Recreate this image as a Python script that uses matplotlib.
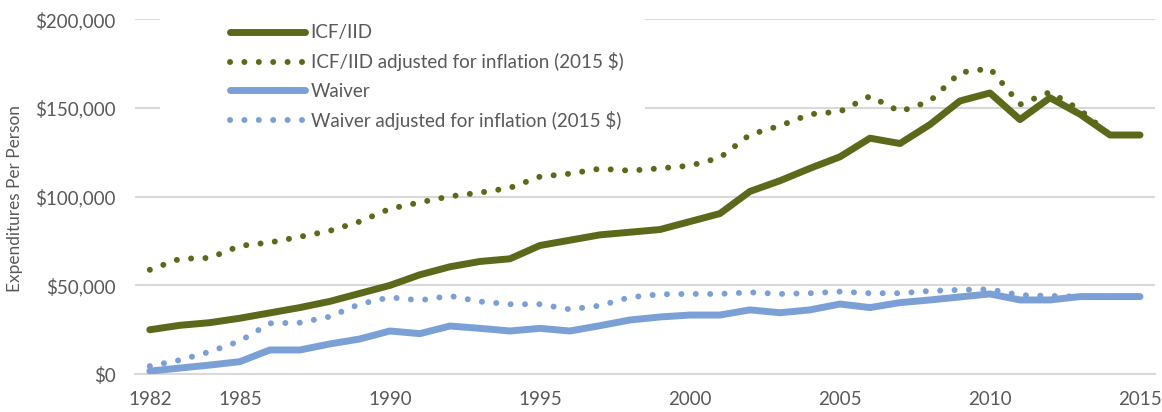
import matplotlib
matplotlib.use('Agg')
import matplotlib.pyplot as plt
from matplotlib.patches import Rectangle
from matplotlib.ticker import FuncFormatter

years = list(range(1982, 2016))

icf = [25000, 27500, 29000, 31500, 34500, 37500, 41000, 45500, 50000, 56000,
       60500, 63500, 65000, 72500, 75500, 78500, 80000, 81500, 86000, 90500,
       103000, 109000, 116000, 122500, 133000, 130000, 140700, 154000, 158500, 143500,
       155800, 146500, 134800, 134800]

icf_adj = [58800, 65000, 65500, 72300, 74200, 77400, 80800, 86000, 93200, 96800,
           100200, 102300, 105000, 111300, 113000, 115800, 114700, 116000, 117500, 122000,
           135000, 140000, 146500, 148000, 156700, 148000, 153900, 170000, 172300, 152000,
           159000, 149000, 134800, 134800]

waiver = [1700, 3400, 5100, 7000, 13600, 13600, 17000, 19800, 24300, 22800,
          27100, 25800, 24300, 25800, 24300, 27300, 30500, 32200, 33300, 33300,
          36200, 34600, 36200, 39500, 37500, 40300, 41800, 43500, 45200, 41800,
          41800, 43700, 43700, 43700]

waiver_adj = [4500, 7900, 12600, 18600, 28600, 29000, 32400, 39500, 43300, 41600,
              44100, 40900, 39400, 39400, 36500, 38600, 43300, 45000, 45200, 45200,
              46100, 45200, 45600, 46500, 45600, 45600, 46900, 47500, 47800, 44500,
              44100, 43700, 43700, 43700]

xticks = [1982, 1985, 1990, 1995, 2000, 2005, 2010, 2015]

green = '#5b6a1a'
blue = '#7ba0d6'
gray = '#595959'

plt.rcParams['font.family'] = ['Lato', 'DejaVu Sans']

fig = plt.figure(figsize=(11.62, 4.12), dpi=100)
ax = fig.add_axes([0.116, 0.092, 0.878, 0.861])

dot = (0, (0.01, 2.4))
ax.plot(years, icf, color=green, lw=5, solid_capstyle='round', label='ICF/IID', zorder=3)
ax.plot(years, icf_adj, color=green, lw=4.3, linestyle=dot, dash_capstyle='round',
        label='ICF/IID adjusted for inflation (2015 $)', zorder=3)
ax.plot(years, waiver, color=blue, lw=5, solid_capstyle='round', label='Waiver', zorder=3)
ax.plot(years, waiver_adj, color=blue, lw=4.3, linestyle=dot, dash_capstyle='round',
        label='Waiver adjusted for inflation (2015 $)', zorder=3)

ax.set_xlim(1981.5, 2015.5)
ax.set_ylim(0, 200000)
ax.set_yticks([0, 50000, 100000, 150000, 200000])
ax.yaxis.set_major_formatter(FuncFormatter(lambda v, p: '${:,.0f}'.format(v)))
ax.set_xticks(xticks)
ax.grid(axis='y', color='#d9d9d9', lw=1.5, zorder=0)
ax.set_axisbelow(True)
for s in ['top', 'right', 'left']:
    ax.spines[s].set_visible(False)
ax.spines['bottom'].set_color('#d9d9d9')
ax.spines['bottom'].set_linewidth(1.5)
ax.tick_params(length=0, labelsize=13.5, colors=gray)
ax.tick_params(axis='y', pad=14)
ax.tick_params(axis='x', pad=12)
fig.text(15 / 1162, 1 - 198 / 412, 'Expenditures Per Person', rotation=90,
         ha='center', va='center', fontsize=12.4, color=gray)

# white legend area hides the gridlines behind it
ax.add_patch(Rectangle((160 / 1162, 1 - 135 / 412), 485 / 1162, 130 / 412,
                       transform=fig.transFigure, facecolor='white', edgecolor='none',
                       zorder=1, clip_on=False))

leg = ax.legend(loc='upper left', bbox_to_anchor=(0.193, 0.955), bbox_transform=fig.transFigure,
                fontsize=13.5, handlelength=4.0, handletextpad=0.3, labelspacing=0.6,
                borderpad=0.3, frameon=False, borderaxespad=0)
for t in leg.get_texts():
    t.set_color(gray)
leg.set_zorder(5)

fig.savefig('out.png', dpi=100)
